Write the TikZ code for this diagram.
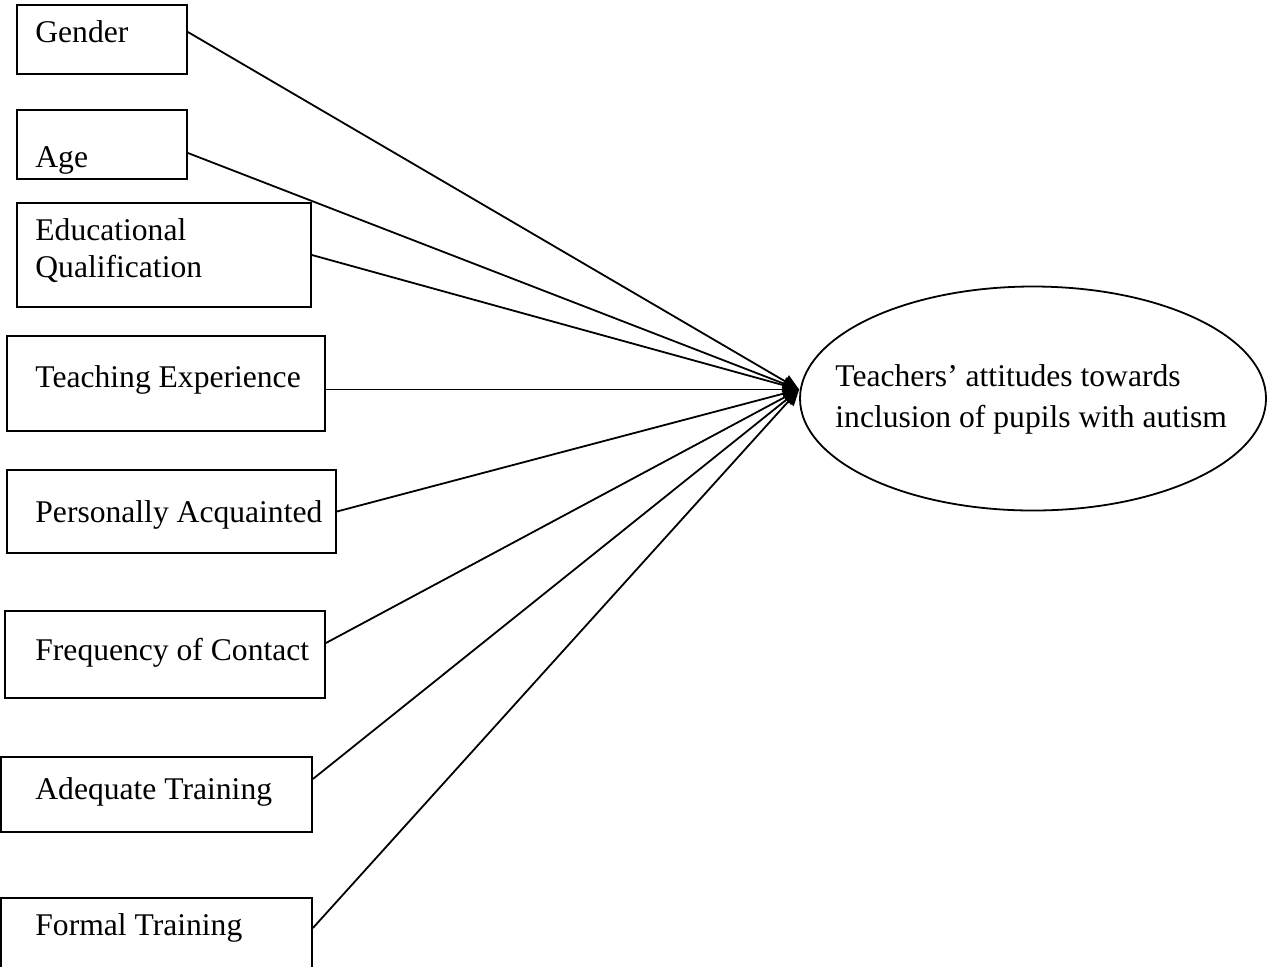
\documentclass[tikz,border=0pt]{standalone}
\usepackage{fontspec}
\setmainfont{Liberation Serif}
\usetikzlibrary{shapes.geometric,arrows.meta}
\begin{document}
\begin{tikzpicture}[x=0.5pt,y=-0.5pt,
  boxst/.style={draw,line width=0.9pt,rectangle,inner sep=0pt},
  lbl/.style={anchor=base west,inner sep=0pt,font=\fontsize{15.8}{18.5}\selectfont,align=left},
  conn/.style={line width=0.9pt,-{Triangle[length=8pt,width=7pt]}}]
\useasboundingbox (0,0) rectangle (1267,966);
\clip (0,0) rectangle (1267,966);
% boxes
\node[boxst,minimum width=85pt,minimum height=34.5pt] (gender) at (102,39.5) {};
\node[boxst,minimum width=85pt,minimum height=34.5pt] (age) at (102,144.5) {};
\node[boxst,minimum width=147pt,minimum height=52pt] (edu) at (164,255) {};
\node[boxst,minimum width=159pt,minimum height=47.5pt] (teach) at (166,383.5) {};
\node[boxst,minimum width=164.5pt,minimum height=41.5pt] (pers) at (171.5,511.5) {};
\node[boxst,minimum width=160pt,minimum height=43.5pt] (freq) at (165,654.5) {};
\node[boxst,minimum width=155.5pt,minimum height=37.5pt] (adeq) at (156.5,794.5) {};
\node[boxst,minimum width=155.5pt,minimum height=38.5pt] (formal) at (156.5,936.5) {};
% labels
\node[lbl] (tgender) at (35,42) {Gender};
\node[lbl] (tage) at (35,167) {Age};
\node[lbl] (tedu) at (35,277) {Educational\\Qualification};
\node[lbl] (tteach) at (35,387) {Teaching Experience};
\node[lbl] (tpers) at (35,522) {Personally Acquainted};
\node[lbl] (tfreq) at (35,660) {Frequency of Contact};
\node[lbl] (tadeq) at (35,799) {Adequate Training};
\node[lbl] (tformal) at (35,935) {Formal Training};
% outcome
\node[draw,ellipse,line width=0.9pt,inner sep=0pt,minimum width=233pt,minimum height=112pt] (out) at (1033,398.5) {};
\node[lbl,font=\fontsize{15.8}{20.5}\selectfont] (tout) at (835,427) {Teachers' attitudes towards\\inclusion of pupils with autism};
\coordinate (hub) at ([yshift=4.5pt]out.west);
% connectors
\draw[conn] ([yshift=3.75pt]gender.east) -- (hub);
\draw[conn] ([yshift=-4.25pt]age.east) -- (hub);
\draw[conn] (edu.east) -- (hub);
\draw[conn] ([yshift=-3pt]teach.east) -- (hub);
\draw[conn] (pers.east) -- (hub);
\draw[conn] ([yshift=5.75pt]freq.east) -- (hub);
\draw[conn] ([yshift=7.75pt]adeq.east) -- (hub);
\draw[conn] ([yshift=4.25pt]formal.east) -- (hub);
\end{tikzpicture}
\end{document}
